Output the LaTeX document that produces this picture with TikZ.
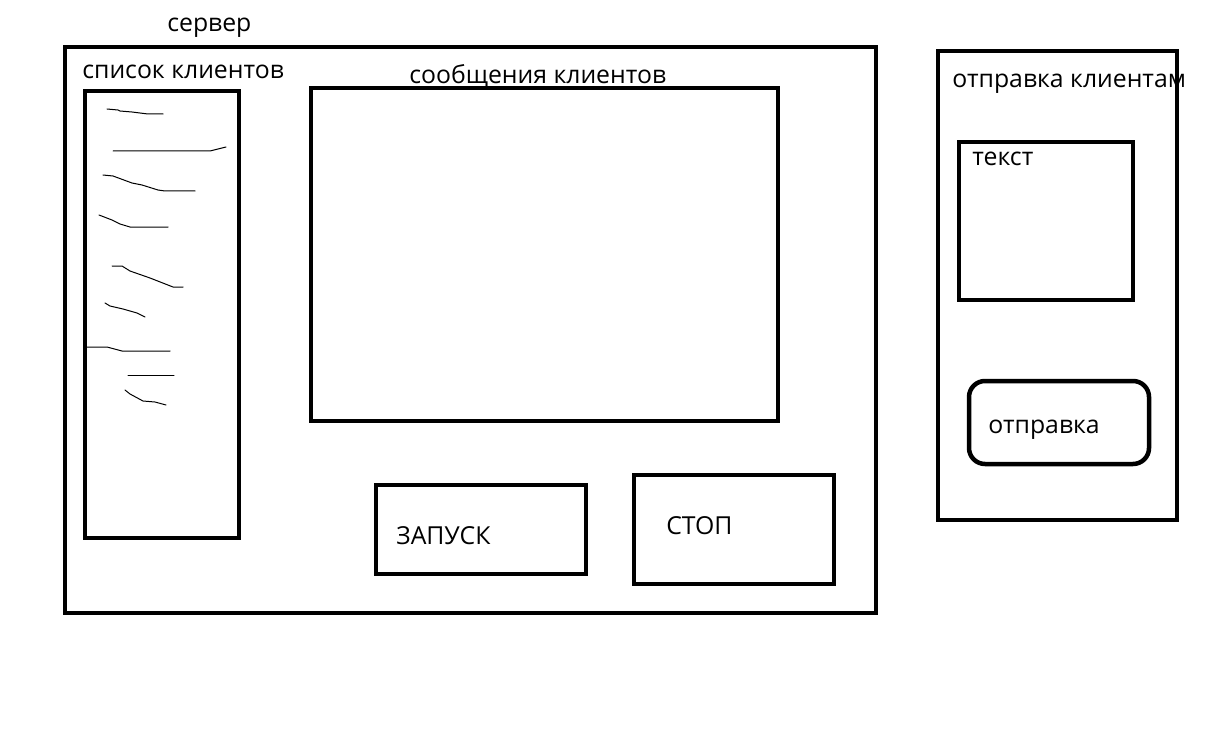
\documentclass[tikz,border=0pt]{standalone}
\usepackage{fontspec}
\setmainfont{Open Sans}
\usetikzlibrary{positioning}
\tikzset{
	box/.style={line width=0.09cm},
	scrib/.style={line width=0.02cm, line join=round, line cap=round},
	lbl/.style={anchor=base west, inner sep=0pt, font=\fontsize{14.1}{17}\selectfont}
}

\begin{document}
\begin{tikzpicture}[x=0.02cm,y=-0.02cm]
		\useasboundingbox (0,0) rectangle (1219,753);
		{\footnotesize
		
		% Drawing server frame
		\draw [box] (65,47) rectangle (876,613);%
		
		% Drawing client list frame
		\draw [box] (85,91) rectangle (239,538);%
		
		% Drawing messages frame
		\draw [box] (311,88) rectangle (778,421);%
		
		% Drawing start and stop buttons
		\draw [box] (376,485) rectangle (586,574);%
		\draw [box] (634,475) rectangle (834,584);%
		
		% Drawing sending frame
		\draw [box] (938,51) rectangle (1177,520);%
		\draw [box] (959,142) rectangle (1133,300);%
		\draw [box, rounded corners=0.32cm] (969,381) rectangle (1149,464);%
		
		% Drawing scribbles in client list
		\draw [scrib] (107,109) -- (118,110) -- (120,111) -- (132,112) -- (148,114) -- (163,114);%
		\draw [scrib] (113,151) -- (210,151) -- (226,147);%
		\draw [scrib] (103,175) -- (113,176) -- (132,183) -- (142,185) -- (158,190) -- (165,191) -- (195,191);%
		\draw [scrib] (99,215) -- (112,220) -- (120,224) -- (130,227) -- (168,227);%
		\draw [scrib] (112,266) -- (122,266) -- (130,271) -- (150,278) -- (173,287) -- (183,287);%
		\draw [scrib] (105,303) -- (110,306) -- (123,309) -- (137,313) -- (145,317);%
		\draw [scrib] (87,347) -- (107,347) -- (122,351) -- (170,351);%
		\draw [scrib] (128,375) -- (174,375);%
		\draw [scrib] (125,390) -- (130,394) -- (143,401) -- (155,402) -- (166,405);%
		
		% Marking labels
		\node [lbl] (server) at (167,32) {сервер};%
		\node [lbl] (clients) at (82,79) {список клиентов};%
		\node [lbl] (messages) at (409,84) {сообщения клиентов};%
		\node [lbl] (start) at (396,544) {ЗАПУСК};%
		\node [lbl] (stop) at (666,534) {СТОП};%
		\node [lbl] (sending) at (952,88) {отправка клиентам};%
		\node [lbl] (text) at (972,166) {текст};%
		\node [lbl] (send) at (988,433) {отправка};%
		}
\end{tikzpicture}
\end{document}
